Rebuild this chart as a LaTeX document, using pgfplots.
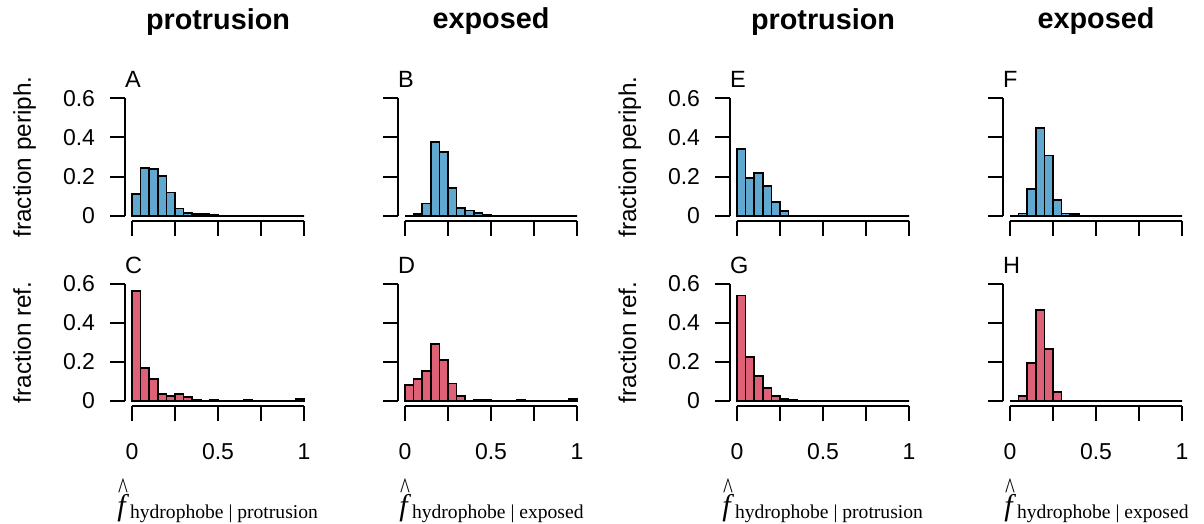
\documentclass[border=0pt]{standalone}
\usepackage{pgfplots}
\pgfplotsset{compat=1.18}
\usepackage{fontspec}
\setmainfont{Liberation Sans}
\newfontfamily\serif{Liberation Serif}
\definecolor{bluC}{RGB}{97,168,208}
\definecolor{redC}{RGB}{223,97,119}
\newcommand{\tk}{\fontsize{23bp}{27bp}\selectfont}
\tikzset{axl/.style={line width=1.9bp, black}, tl/.style={inner sep=0pt, outer sep=0pt}}
\pgfplotsset{panel/.style={hide axis, clip=false, scale only axis, width=172bp, height=117.4bp,
  xmin=0, xmax=1, ymin=0, ymax=0.6, anchor=south west}}
\newcommand{\yax}{%
 \draw[axl] ([xshift=-7bp]axis cs:0,0) -- ([xshift=-7bp]axis cs:0,0.6);
 \draw[axl] ([xshift=-7bp]axis cs:0,0) -- ++(-15bp,0);
 \draw[axl] ([xshift=-7bp]axis cs:0,0.2) -- ++(-15bp,0);
 \draw[axl] ([xshift=-7bp]axis cs:0,0.4) -- ++(-15bp,0);
 \draw[axl] ([xshift=-7bp]axis cs:0,0.6) -- ++(-15bp,0);}
\newcommand{\xax}{%
 \draw[axl] ([yshift=-5.3bp]axis cs:0,0) -- ([yshift=-5.3bp]axis cs:1,0);
 \draw[axl] ([yshift=-5.3bp]axis cs:0,0) -- ++(0,-14.7bp);
 \draw[axl] ([yshift=-5.3bp]axis cs:0.25,0) -- ++(0,-14.7bp);
 \draw[axl] ([yshift=-5.3bp]axis cs:0.5,0) -- ++(0,-14.7bp);
 \draw[axl] ([yshift=-5.3bp]axis cs:0.75,0) -- ++(0,-14.7bp);
 \draw[axl] ([yshift=-5.3bp]axis cs:1,0) -- ++(0,-14.7bp);}
\newcommand{\ylabs}[1]{%
 \node[tl,anchor=east] at ([xshift=-37bp]axis cs:0,0) {\tk 0};
 \node[tl,anchor=east] at ([xshift=-37bp]axis cs:0,0.2) {\tk 0.2};
 \node[tl,anchor=east] at ([xshift=-37bp]axis cs:0,0.4) {\tk 0.4};
 \node[tl,anchor=east] at ([xshift=-37bp]axis cs:0,0.6) {\tk 0.6};
 \node[tl,anchor=base,rotate=90] at ([xshift=-101bp]axis cs:0,0.3) {\fontsize{24.3bp}{28bp}\selectfont #1};}
\newcommand{\xlabs}{%
 \node[tl,anchor=base] at ([yshift=-58bp]axis cs:0,0) {\tk 0};
 \node[tl,anchor=base] at ([yshift=-58bp]axis cs:0.5,0) {\tk 0.5};
 \node[tl,anchor=base] at ([yshift=-58bp]axis cs:1,0) {\tk 1};}
\newcommand{\letter}[1]{\node[tl,anchor=base west] at ([xshift=-7bp,yshift=10.5bp]axis cs:0,0.6) {\fontsize{23.5bp}{28bp}\selectfont #1};}
\newcommand{\ttl}[1]{\node[tl,anchor=base] at ([yshift=69.3bp]axis cs:0.5,0.6) {\fontsize{28.8bp}{32bp}\selectfont\bfseries #1};}
\newcommand{\fhat}[1]{{\serif\fontsize{30bp}{32bp}\selectfont\rlap{\hspace{0.6bp}\raisebox{17.5bp}{\scalebox{0.7}[1.0]{\textasciicircum}}}\itshape f\hspace{4.3bp}\upshape\raisebox{-3bp}{\fontsize{19.6bp}{22bp}\selectfont hydrophobe | #1}}}
\newcommand{\xlabel}[2]{\node[tl,anchor=base west] at ([xshift=#1,yshift=-114.8bp]axis cs:0,0) {\fhat{#2}};}

\begin{document}
\begin{tikzpicture}[x=1bp,y=1bp]
\useasboundingbox (0,0) rectangle (1204,-524);
% A
\begin{axis}[panel, at={(132bp,-215.7bp)}]
\addplot[ybar interval, fill=bluC, draw=black, line width=1.7bp] coordinates {
(0,0.111)(0.05,0.244)(0.1,0.237)(0.15,0.204)(0.2,0.119)(0.25,0.037)(0.3,0.015)(0.35,0.008)(0.4,0.008)(0.45,0.003)
(0.5,0)(0.55,0)(0.6,0)(0.65,0)(0.7,0)(0.75,0)(0.8,0)(0.85,0)(0.9,0)(0.95,0)(1,0)};
\yax \xax \ylabs{fraction periph.} \letter{A} \ttl{protrusion}
\end{axis}
% B
\begin{axis}[panel, at={(405bp,-215.7bp)}]
\addplot[ybar interval, fill=bluC, draw=black, line width=1.7bp] coordinates {
(0,0)(0.05,0.009)(0.1,0.063)(0.15,0.378)(0.2,0.325)(0.25,0.140)(0.3,0.039)(0.35,0.027)(0.4,0.014)(0.45,0.005)
(0.5,0)(0.55,0)(0.6,0)(0.65,0)(0.7,0)(0.75,0)(0.8,0)(0.85,0)(0.9,0)(0.95,0)(1,0)};
\yax \xax \letter{B} \ttl{exposed}
\end{axis}
% E
\begin{axis}[panel, at={(737bp,-215.7bp)}]
\addplot[ybar interval, fill=bluC, draw=black, line width=1.7bp] coordinates {
(0,0.341)(0.05,0.194)(0.1,0.218)(0.15,0.153)(0.2,0.070)(0.25,0.024)(0.3,0)(0.35,0)(0.4,0)(0.45,0)
(0.5,0)(0.55,0)(0.6,0)(0.65,0)(0.7,0)(0.75,0)(0.8,0)(0.85,0)(0.9,0)(0.95,0)(1,0)};
\yax \xax \ylabs{fraction periph.} \letter{E} \ttl{protrusion}
\end{axis}
% F
\begin{axis}[panel, at={(1010bp,-215.7bp)}]
\addplot[ybar interval, fill=bluC, draw=black, line width=1.7bp] coordinates {
(0,0)(0.05,0.012)(0.1,0.135)(0.15,0.447)(0.2,0.307)(0.25,0.081)(0.3,0.012)(0.35,0.007)(0.4,0)(0.45,0)
(0.5,0)(0.55,0)(0.6,0)(0.65,0)(0.7,0)(0.75,0)(0.8,0)(0.85,0)(0.9,0)(0.95,0)(1,0)};
\yax \xax \letter{F} \ttl{exposed}
\end{axis}
% C
\begin{axis}[panel, at={(132bp,-401bp)}]
\addplot[ybar interval, fill=redC, draw=black, line width=1.7bp] coordinates {
(0,0.561)(0.05,0.170)(0.1,0.114)(0.15,0.036)(0.2,0.024)(0.25,0.0375)(0.3,0.019)(0.35,0.007)(0.4,0)(0.45,0.005)
(0.5,0)(0.55,0)(0.6,0)(0.65,0.005)(0.7,0)(0.75,0)(0.8,0)(0.85,0)(0.9,0)(0.95,0.012)(1,0.012)};
\yax \xax \ylabs{fraction ref.} \xlabs \letter{C} \xlabel{-14.6bp}{protrusion}
\end{axis}
% D
\begin{axis}[panel, at={(405bp,-401bp)}]
\addplot[ybar interval, fill=redC, draw=black, line width=1.7bp] coordinates {
(0,0.082)(0.05,0.114)(0.1,0.155)(0.15,0.290)(0.2,0.208)(0.25,0.089)(0.3,0.026)(0.35,0)(0.4,0.005)(0.45,0.005)
(0.5,0)(0.55,0)(0.6,0)(0.65,0.005)(0.7,0)(0.75,0)(0.8,0)(0.85,0)(0.9,0)(0.95,0.012)(1,0.012)};
\yax \xax \xlabs \letter{D} \xlabel{-5.6bp}{exposed}
\end{axis}
% G
\begin{axis}[panel, at={(737bp,-401bp)}]
\addplot[ybar interval, fill=redC, draw=black, line width=1.7bp] coordinates {
(0,0.539)(0.05,0.225)(0.1,0.128)(0.15,0.065)(0.2,0.026)(0.25,0.009)(0.3,0.005)(0.35,0.003)(0.4,0.002)(0.45,0.001)
(0.5,0)(0.55,0)(0.6,0)(0.65,0)(0.7,0)(0.75,0)(0.8,0)(0.85,0)(0.9,0)(0.95,0)(1,0)};
\yax \xax \ylabs{fraction ref.} \xlabs \letter{G} \xlabel{-14.6bp}{protrusion}
\end{axis}
% H
\begin{axis}[panel, at={(1010bp,-401bp)}]
\addplot[ybar interval, fill=redC, draw=black, line width=1.7bp] coordinates {
(0,0)(0.05,0.024)(0.1,0.194)(0.15,0.464)(0.2,0.266)(0.25,0.046)(0.3,0.003)(0.35,0)(0.4,0)(0.45,0)
(0.5,0)(0.55,0)(0.6,0)(0.65,0)(0.7,0)(0.75,0)(0.8,0)(0.85,0)(0.9,0)(0.95,0)(1,0)};
\yax \xax \xlabs \letter{H} \xlabel{-5.6bp}{exposed}
\end{axis}
\end{tikzpicture}
\end{document}
